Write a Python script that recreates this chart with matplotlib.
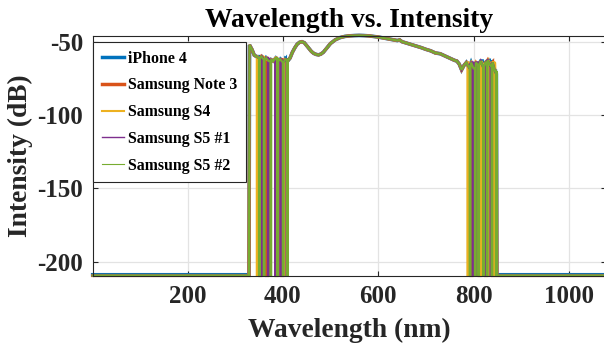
import numpy as np
import matplotlib
matplotlib.use("Agg")
import matplotlib.pyplot as plt
from matplotlib.lines import Line2D

# ---- data -------------------------------------------------------------
series_names = ["iPhone 4", "Samsung Note 3", "Samsung S4", "Samsung S5 #1", "Samsung S5 #2"]
series_colors = ["#0072BD", "#D95319", "#EDB120", "#7E2F8E", "#77AC30"]
plot_widths = [2.6, 2.3, 2.0, 1.8, 1.6]
legend_widths = [2.5, 2.5, 1.5, 1.0, 0.8]
floor_db = [-208.9, -209.4, -209.4, -209.4, -209.4]

# Shared spectral envelope (nm, dB); None marks "no signal" (detector floor)
wavelength = [1, 329, 330, 335, 340, 345, 350, 355, 360, 365, 370, 375, 380, 385,
              390, 395, 400, 405, 410, 415, 420, 425, 430, 435, 440, 445, 450, 455,
              460, 465, 470, 475, 480, 485, 490, 495, 500, 510, 520, 530, 540, 550,
              560, 570, 580, 590, 600, 610, 620, 630, 640, 645, 650, 660, 670, 680,
              690, 700, 710, 720, 730, 740, 750, 760, 765, 770, 775, 780, 785, 790,
              795, 800, 805, 810, 815, 820, 825, 830, 835, 840, 845, 848, 849, 1078]
envelope = [None, None, -52, -55, -59, -60, -61, -60, -62, -61, -63, -62, -63, -61,
            -63, -62, -64, -62, -63, -61, -57, -54, -51.5, -50.2, -49.8, -50.5, -52.5, -54.5,
            -56.5, -57.8, -58.5, -58.8, -58.2, -57, -55, -53, -51, -48.5, -47, -46.2, -45.8, -45.6,
            -45.5, -45.6, -45.8, -46.2, -46.6, -47.2, -47.8, -48.4, -49, -48.6, -49.8, -50.8, -51.8, -52.8,
            -53.8, -55, -56, -57.5, -58, -59.5, -61, -62.5, -63, -65, -69, -66, -64, -67,
            -64, -68, -64, -66, -63, -67, -64, -62.5, -66, -64, -70, -72, None, None]

# Wavelengths at which each handset's reading briefly falls to the floor
dropouts_iphone4 = [348, 362, 371, 392, 405, 790, 805, 818, 833, 846]
dropouts_note3 = [352, 366, 386, 398, 795, 812, 826, 840]
dropouts_s4 = [346, 358, 372, 390, 402, 788, 800, 815, 830, 843]
dropouts_s5_1 = [355, 369, 384, 395, 408, 798, 808, 822, 836]
dropouts_s5_2 = [350, 360, 374, 388, 400, 409, 792, 803, 810, 820, 828, 838, 847]
all_dropouts = [dropouts_iphone4, dropouts_note3, dropouts_s4, dropouts_s5_1, dropouts_s5_2]
notch_nm = 1.5

x_ticks = [200, 400, 600, 800, 1000]
y_ticks = [-200, -150, -100, -50]


def build_trace(drops, floor):
    xs, ys = [], []
    for i, (w, d) in enumerate(zip(wavelength, envelope)):
        level = floor if d is None else d
        xs.append(w)
        ys.append(level)
        nxt = wavelength[i + 1] if i + 1 < len(wavelength) else np.inf
        for dw in drops:
            if w <= dw < nxt:
                xs += [dw, dw, dw + notch_nm, dw + notch_nm]
                ys += [level, floor, floor, level]
    return xs, ys


# ---- style ------------------------------------------------------------
plt.rcParams["font.family"] = ["Liberation Serif", "DejaVu Serif"]
plt.rcParams["font.weight"] = "bold"
plt.rcParams["axes.unicode_minus"] = False

fig = plt.figure(figsize=(6.04, 3.52), dpi=100)
ax = fig.add_axes([92.7 / 604, 76.5 / 352, (606 - 92.7) / 604, (316.3 - 76.5) / 352])

for color, lw, drops, fl in zip(series_colors, plot_widths, all_dropouts, floor_db):
    xs, ys = build_trace(drops, fl)
    ax.plot(xs, ys, color=color, lw=lw, clip_on=False, solid_joinstyle="miter")

ax.set_xlim(1, 1078)
ax.set_ylim(-209.4, -45.7)
ax.set_xticks(x_ticks)
ax.set_yticks(y_ticks)
ax.set_xticklabels([str(t) for t in x_ticks])
ax.set_yticklabels([str(t) for t in y_ticks])

ax.grid(True, color="#e3e3e3", lw=0.9)
ax.set_axisbelow(True)
for sp in ax.spines.values():
    sp.set_color("#262626")
    sp.set_linewidth(0.8)
ax.tick_params(direction="in", length=3.8, width=0.8, color="#262626",
               top=True, right=True, labelsize=18, pad=7, labelcolor="#262626")

ax.set_title("Wavelength vs. Intensity", fontsize=19.8, fontweight="bold", pad=6)
ax.set_xlabel("Wavelength (nm)", fontsize=19.8, fontweight="bold", labelpad=7, color="#262626")
ax.set_ylabel("Intensity (dB)", fontsize=19.8, fontweight="bold", labelpad=3, color="#262626")

handles = [Line2D([], [], color=c, lw=w) for c, w in zip(series_colors, legend_widths)]
leg = ax.legend(handles, series_names, loc="upper left",
                bbox_to_anchor=(93 / 604, 1 - 42 / 352),
                bbox_transform=fig.transFigure, borderaxespad=0, fontsize=11.4,
                frameon=True, fancybox=False, framealpha=1, edgecolor="#262626",
                handlelength=1.4, handletextpad=0.25, labelspacing=0.68,
                borderpad=0.55)
leg.get_frame().set_linewidth(0.8)
for t in leg.get_texts():
    t.set_fontweight("bold")

fig.savefig("out.png", dpi=100)
